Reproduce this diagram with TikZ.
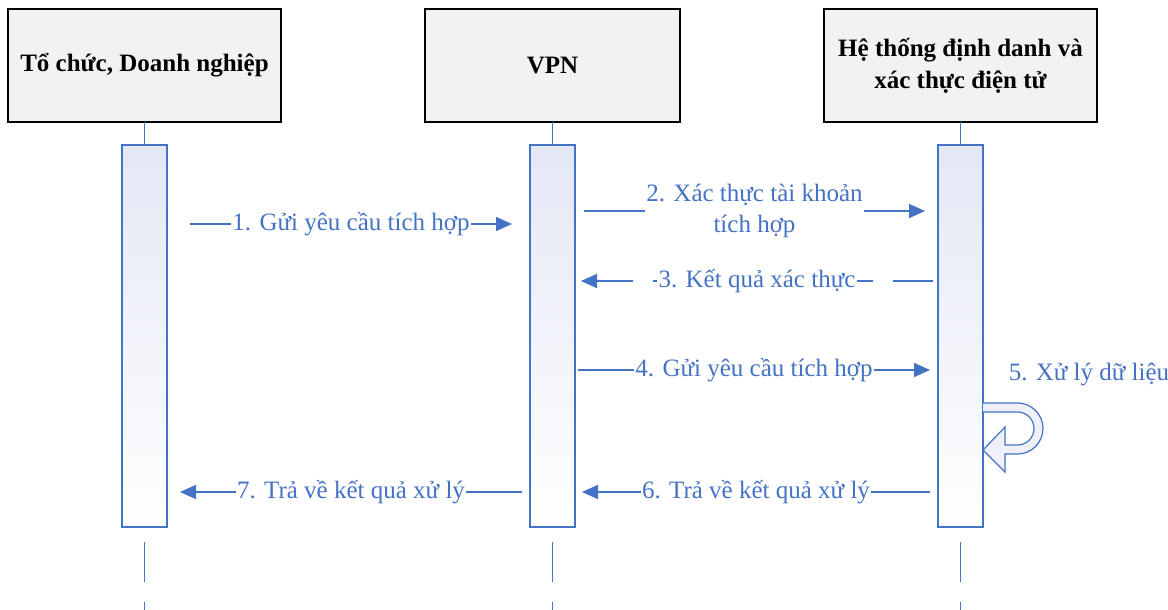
\documentclass[tikz,border=0pt]{standalone}
\usepackage{fontspec}
\setmainfont{Liberation Serif}
\definecolor{seqblue}{RGB}{68, 114, 196}
\definecolor{headfill}{RGB}{242, 242, 242}
\definecolor{bartop}{RGB}{228, 231, 245}
\definecolor{loopfill}{RGB}{238, 240, 250}
\usetikzlibrary{
  arrows.meta,
  calc,
  positioning,
}
\tikzset{
  >={Triangle[length=16pt,width=14pt]},
  head/.style={draw=black,line width=1.6pt,outer sep=0pt,fill=headfill,minimum width=273pt,minimum height=113pt,align=center,font=\fontsize{25}{32}\selectfont\bfseries},
  bar/.style={draw=seqblue,line width=1.6pt,outer sep=0pt,top color=bartop,bottom color=white,minimum width=45pt,minimum height=382pt},
  life/.style={draw=seqblue,line width=1.8pt},
  msg/.style={seqblue,line width=1.6pt,->},
  lbl/.style={midway,fill=white,text=seqblue,inner sep=1.5pt,align=center,font=\fontsize{25}{31}\selectfont},
}

\begin{document}
\begin{tikzpicture}[x=1pt,y=-1pt,node distance=23pt and 144pt]
        \useasboundingbox (0,0) rectangle (1168,610);

        % participants
        \node[head]                    (h1) at (144.5,65.5) {Tổ chức, Doanh nghiệp};
        \node[head,minimum width=255pt] (h2) [right=of h1]  {VPN};
        \node[head]                    (h3) [right=of h2]  {\raisebox{-2pt}{Hệ thống định danh và}\\\raisebox{-2pt}{xác thực điện tử}};

        \node[bar] (b1) [below=of h1] {};
        \node[bar] (b2) [below=of h2] {};
        \node[bar] (b3) [below=of h3] {};

        \foreach \i in {1,2,3} {
            \draw[life] (h\i.south) -- (b\i.north);
            \draw[life,dash pattern=on 40pt off 20pt] ([yshift=-15pt]b\i.south) -- ++(0,68);
        }

        % messages
        \coordinate (m1a) at (190,224); \coordinate (m1b) at (512,224);
        \coordinate (m2a) at (584,211); \coordinate (m2b) at (925,211);
        \coordinate (m3a) at (933,281); \coordinate (m3b) at (581,281);
        \coordinate (m4a) at (578,370); \coordinate (m4b) at (930,370);
        \coordinate (m6a) at (930,492); \coordinate (m6b) at (582,492);
        \coordinate (m7a) at (522,492); \coordinate (m7b) at (180,492);

        \draw[msg] (m1a) -- node[lbl] {1. Gửi yêu cầu tích hợp} (m1b);
        \draw[msg] (m2a) -- node[lbl] {2. Xác thực tài khoản\\tích hợp} (m2b);
        \draw[msg,dash pattern=on 40pt off 20pt] (m3a) -- node[lbl] {3. Kết quả xác thực} (m3b);
        \draw[msg] (m4a) -- node[lbl] {4. Gửi yêu cầu tích hợp} (m4b);
        \draw[msg] (m6a) -- node[lbl] {6. Trả về kết quả xử lý} (m6b);
        \draw[msg] (m7a) -- node[lbl] {7. Trả về kết quả xử lý} (m7b);

        % self call
        \node[text=seqblue,font=\fontsize{25}{31}\selectfont] (l5) at (1089,374) {5. Xử lý dữ liệu};
        \draw[seqblue,line width=1.2pt,fill=loopfill]
            (983,403) -- (1017.5,403) arc[start angle=90,end angle=-90,radius=25.5pt]
            -- (1005,454) -- (1005,472) -- (983,450) -- (1005,427) -- (1005,445) -- (1017.5,445)
            arc[start angle=-90,end angle=90,radius=16.5pt] -- (983,412);
    \end{tikzpicture}
\end{document}
